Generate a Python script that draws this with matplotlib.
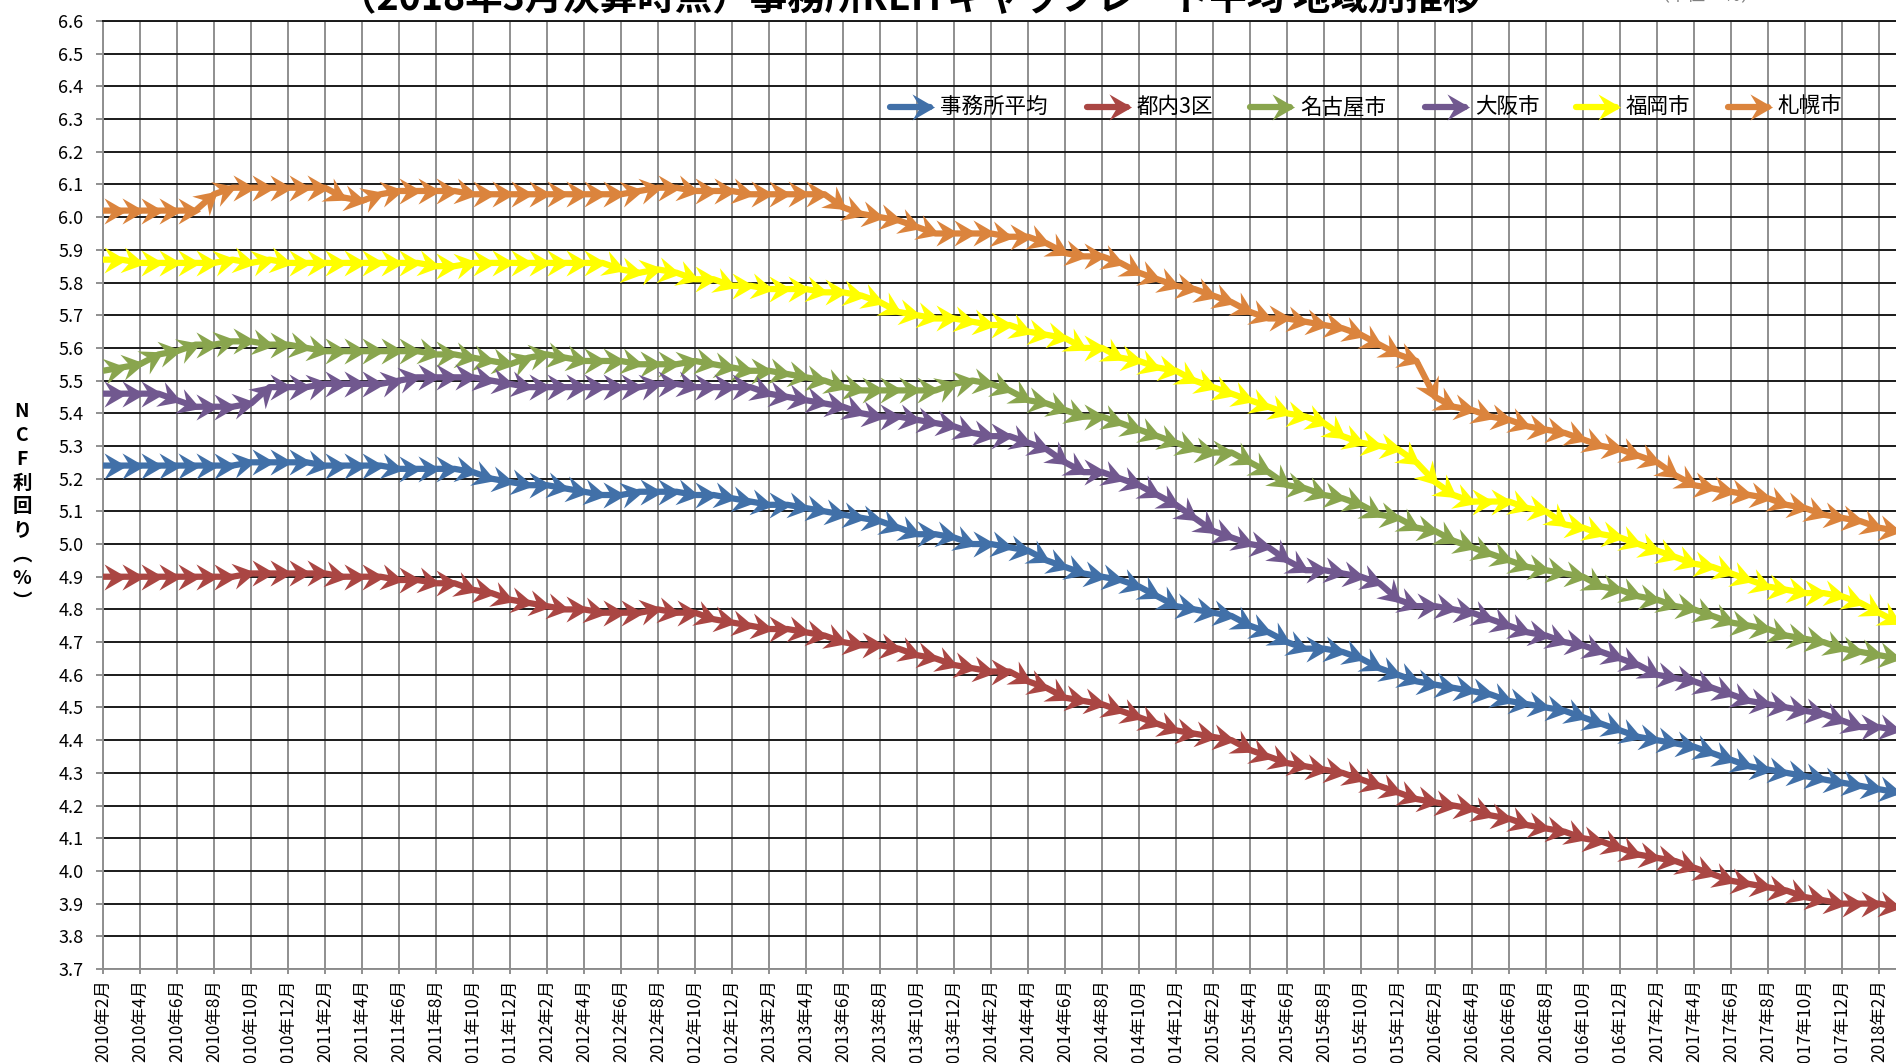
import numpy as np
import matplotlib.pyplot as plt
from matplotlib.markers import MarkerStyle
from matplotlib.path import Path
from matplotlib.lines import Line2D
from matplotlib.transforms import Affine2D

plt.rcParams['font.family'] = ['Noto Sans CJK JP', 'DejaVu Sans']

# monthly labels, 2010年2月 .. 2018年3月
months = []
for k in range(98):
    yr = 2010 + (k + 1) // 12
    mo = (k + 1) % 12 + 1
    months.append(f'{yr}年{mo}月')

names = ['事務所平均', '都内3区', '名古屋市', '大阪市', '福岡市', '札幌市']
colors = ['#4170A8', '#AA4643', '#89A54E', '#71588F', '#FFFF00', '#DB843D']

office_avg = [5.24, 5.24, 5.24, 5.24, 5.24, 5.24, 5.24, 5.24, 5.25, 5.25,
              5.25, 5.25, 5.24, 5.24, 5.24, 5.24, 5.23, 5.23, 5.23, 5.23,
              5.22, 5.20, 5.19, 5.18, 5.18, 5.17, 5.16, 5.15, 5.15, 5.16,
              5.16, 5.16, 5.15, 5.15, 5.14, 5.13, 5.12, 5.12, 5.11, 5.10,
              5.09, 5.08, 5.07, 5.05, 5.03, 5.03, 5.02, 5.00, 5.00, 4.99,
              4.98, 4.95, 4.93, 4.91, 4.90, 4.89, 4.87, 4.84, 4.81, 4.80,
              4.79, 4.78, 4.75, 4.73, 4.70, 4.68, 4.68, 4.67, 4.65, 4.62,
              4.60, 4.58, 4.57, 4.56, 4.55, 4.54, 4.52, 4.51, 4.50, 4.49,
              4.47, 4.45, 4.43, 4.41, 4.40, 4.39, 4.38, 4.36, 4.34, 4.32,
              4.31, 4.30, 4.29, 4.28, 4.27, 4.26, 4.25, 4.24]

tokyo3 = [4.90, 4.90, 4.90, 4.90, 4.90, 4.90, 4.90, 4.90, 4.91, 4.91,
          4.91, 4.91, 4.91, 4.90, 4.90, 4.90, 4.89, 4.89, 4.88, 4.88,
          4.86, 4.85, 4.83, 4.82, 4.81, 4.80, 4.80, 4.79, 4.79, 4.79,
          4.80, 4.79, 4.79, 4.77, 4.76, 4.75, 4.74, 4.74, 4.73, 4.72,
          4.70, 4.69, 4.69, 4.68, 4.66, 4.65, 4.63, 4.62, 4.61, 4.61,
          4.58, 4.56, 4.53, 4.52, 4.51, 4.49, 4.47, 4.45, 4.43, 4.42,
          4.41, 4.40, 4.37, 4.35, 4.33, 4.32, 4.31, 4.30, 4.28, 4.26,
          4.24, 4.22, 4.21, 4.20, 4.19, 4.17, 4.16, 4.14, 4.13, 4.12,
          4.10, 4.09, 4.07, 4.05, 4.04, 4.03, 4.01, 3.99, 3.97, 3.96,
          3.95, 3.94, 3.92, 3.91, 3.90, 3.90, 3.90, 3.89]

nagoya = [5.53, 5.54, 5.55, 5.58, 5.59, 5.61, 5.61, 5.62, 5.62, 5.61,
          5.61, 5.60, 5.59, 5.59, 5.59, 5.59, 5.59, 5.59, 5.58, 5.58,
          5.57, 5.56, 5.55, 5.57, 5.58, 5.57, 5.56, 5.56, 5.56, 5.55,
          5.55, 5.55, 5.56, 5.55, 5.54, 5.53, 5.53, 5.52, 5.51, 5.50,
          5.48, 5.47, 5.47, 5.47, 5.47, 5.47, 5.49, 5.50, 5.49, 5.47,
          5.44, 5.43, 5.41, 5.39, 5.39, 5.37, 5.35, 5.33, 5.31, 5.29,
          5.28, 5.28, 5.25, 5.22, 5.18, 5.17, 5.15, 5.14, 5.12, 5.09,
          5.08, 5.05, 5.04, 5.01, 4.99, 4.97, 4.95, 4.93, 4.92, 4.91,
          4.90, 4.87, 4.86, 4.84, 4.83, 4.81, 4.80, 4.78, 4.76, 4.75,
          4.74, 4.72, 4.71, 4.70, 4.68, 4.67, 4.66, 4.65]

osaka = [5.46, 5.46, 5.46, 5.46, 5.44, 5.42, 5.42, 5.42, 5.43, 5.48,
         5.48, 5.48, 5.49, 5.49, 5.49, 5.49, 5.50, 5.51, 5.51, 5.51,
         5.51, 5.50, 5.49, 5.48, 5.48, 5.48, 5.48, 5.48, 5.48, 5.48,
         5.49, 5.49, 5.48, 5.48, 5.48, 5.48, 5.46, 5.45, 5.44, 5.43,
         5.42, 5.40, 5.39, 5.39, 5.38, 5.37, 5.36, 5.34, 5.33, 5.33,
         5.31, 5.29, 5.25, 5.22, 5.22, 5.20, 5.18, 5.15, 5.12, 5.08,
         5.04, 5.02, 5.00, 4.99, 4.95, 4.92, 4.92, 4.91, 4.90, 4.88,
         4.83, 4.81, 4.81, 4.80, 4.79, 4.77, 4.75, 4.73, 4.72, 4.70,
         4.69, 4.67, 4.65, 4.63, 4.60, 4.59, 4.58, 4.56, 4.54, 4.52,
         4.51, 4.50, 4.49, 4.48, 4.46, 4.44, 4.44, 4.43]

fukuoka = [5.87, 5.87, 5.86, 5.86, 5.86, 5.86, 5.86, 5.87, 5.86, 5.87,
           5.86, 5.86, 5.86, 5.86, 5.86, 5.86, 5.86, 5.86, 5.85, 5.85,
           5.86, 5.86, 5.86, 5.86, 5.86, 5.86, 5.86, 5.86, 5.84, 5.83,
           5.84, 5.83, 5.81, 5.81, 5.79, 5.79, 5.78, 5.78, 5.78, 5.77,
           5.77, 5.76, 5.74, 5.71, 5.70, 5.69, 5.69, 5.68, 5.67, 5.67,
           5.65, 5.64, 5.63, 5.60, 5.60, 5.57, 5.56, 5.54, 5.53, 5.50,
           5.48, 5.46, 5.44, 5.42, 5.40, 5.39, 5.37, 5.33, 5.31, 5.30,
           5.29, 5.25, 5.19, 5.15, 5.13, 5.13, 5.13, 5.11, 5.10, 5.06,
           5.05, 5.03, 5.02, 5.00, 4.98, 4.96, 4.94, 4.93, 4.91, 4.89,
           4.87, 4.86, 4.85, 4.85, 4.84, 4.82, 4.79, 4.76]

sapporo = [6.02, 6.02, 6.02, 6.02, 6.02, 6.02, 6.07, 6.09, 6.09, 6.09,
           6.09, 6.09, 6.09, 6.06, 6.05, 6.07, 6.08, 6.08, 6.08, 6.08,
           6.07, 6.07, 6.07, 6.07, 6.07, 6.07, 6.07, 6.07, 6.07, 6.08,
           6.09, 6.09, 6.08, 6.08, 6.08, 6.07, 6.07, 6.07, 6.07, 6.07,
           6.03, 6.01, 6.00, 5.99, 5.97, 5.95, 5.95, 5.95, 5.95, 5.94,
           5.94, 5.92, 5.89, 5.88, 5.88, 5.86, 5.83, 5.81, 5.79, 5.78,
           5.76, 5.74, 5.71, 5.69, 5.69, 5.68, 5.67, 5.66, 5.64, 5.61,
           5.58, 5.56, 5.45, 5.42, 5.41, 5.39, 5.38, 5.36, 5.35, 5.34,
           5.32, 5.30, 5.29, 5.27, 5.25, 5.21, 5.18, 5.17, 5.16, 5.15,
           5.14, 5.12, 5.11, 5.09, 5.08, 5.07, 5.05, 5.04]

series = [office_avg, tokyo3, nagoya, osaka, fukuoka, sapporo]

title = '（2018年3月決算時点）事務所REITキャップレート平均 地域別推移'

# stealth-style arrow head, tip close to the data point
head = Path([(0.2, 0), (-0.8, 0.58), (-0.45, 0), (-0.8, -0.58), (0.2, 0)],
            [Path.MOVETO, Path.LINETO, Path.LINETO, Path.LINETO, Path.CLOSEPOLY])

W, H = 1896, 1063
fig = plt.figure(figsize=(W / 100, H / 100), dpi=100)

# axes runs off the right edge of the picture (as in the source crop)
left_px, top_px, bot_px, month_px, nmax = 103, 21, 969, 18.5, 100
ax = fig.add_axes([left_px / W, (H - bot_px) / H, nmax * month_px / W, (bot_px - top_px) / H])
ax.set_xlim(0, nmax)
ax.set_ylim(3.7, 6.6)

ax.set_yticks(np.round(np.arange(3.7, 6.61, 0.1), 1))
ax.yaxis.set_major_formatter(plt.FormatStrFormatter('%.1f'))
ax.set_xticks(range(0, len(months), 2))
ax.set_xticklabels(months[::2], rotation=90)

ax.grid(axis='y', color='#1a1a1a', lw=1.4, zorder=0)
ax.grid(axis='x', color='#8f8f8f', lw=1.4, zorder=0)
ax.set_axisbelow(True)
for s in ['left', 'bottom']:
    ax.spines[s].set_color('#8f8f8f')
    ax.spines[s].set_linewidth(1.4)
ax.spines['top'].set_color('#1a1a1a')
ax.spines['top'].set_linewidth(1.4)
ax.spines['right'].set_visible(False)
ax.tick_params(axis='both', direction='out', color='#8f8f8f', width=1.4)
ax.tick_params(axis='y', length=5, pad=9, labelsize=13)
ax.tick_params(axis='x', length=3.5, pad=4, labelsize=12.5)

# each series: thick line plus an arrow head at the end of every segment
for k, (vals, c) in enumerate(zip(series, colors)):
    xs = np.arange(len(vals))
    zo = 3 + k * 0.1
    ax.plot(xs, vals, color=c, lw=4.5, solid_capstyle='butt', zorder=zo)
    pts = ax.transData.transform(np.column_stack([xs, vals]))
    for i in range(1, len(vals)):
        dx, dy = pts[i] - pts[i - 1]
        ang = np.degrees(np.arctan2(dy, dx))
        m = MarkerStyle(head, transform=Affine2D().rotate_deg(ang))
        ax.plot(xs[i], vals[i], marker=m, ms=26, color=c, mew=0, ls='none', zorder=zo)

# legend drawn by hand across the top of the plot
leg_start = [890, 1087, 1250, 1425, 1576, 1728]
leg_y = 1 - 107 / H
for name, c, lx in zip(names, colors, leg_start):
    fig.add_artist(Line2D([lx / W, (lx + 40) / W], [leg_y, leg_y], transform=fig.transFigure,
                          color=c, lw=4.5, solid_capstyle='round'))
    fig.add_artist(Line2D([(lx + 40) / W], [leg_y], transform=fig.transFigure,
                          marker=MarkerStyle(head), ms=26, color=c, mew=0, ls='none'))
    fig.text((lx + 50) / W, leg_y, name, va='center', ha='left', fontsize=15.5)

# vertical axis title, one character per line
fig.text(22 / W, 1 - 507 / H, '\n'.join('NCF利回り︵%︶'), ha='center', va='center',
         fontsize=14, fontweight='bold', linespacing=1.32)

# title and note, cut off by the top edge as in the source
fig.text(910 / W, 1 - 10 / H, title, ha='center', va='baseline', fontsize=27, fontweight='bold')
fig.text(1705 / W, 1 - 1 / H, '（単位：％）', ha='center', va='baseline', fontsize=13, color='#808080')

plt.savefig('out.png', dpi=100)
